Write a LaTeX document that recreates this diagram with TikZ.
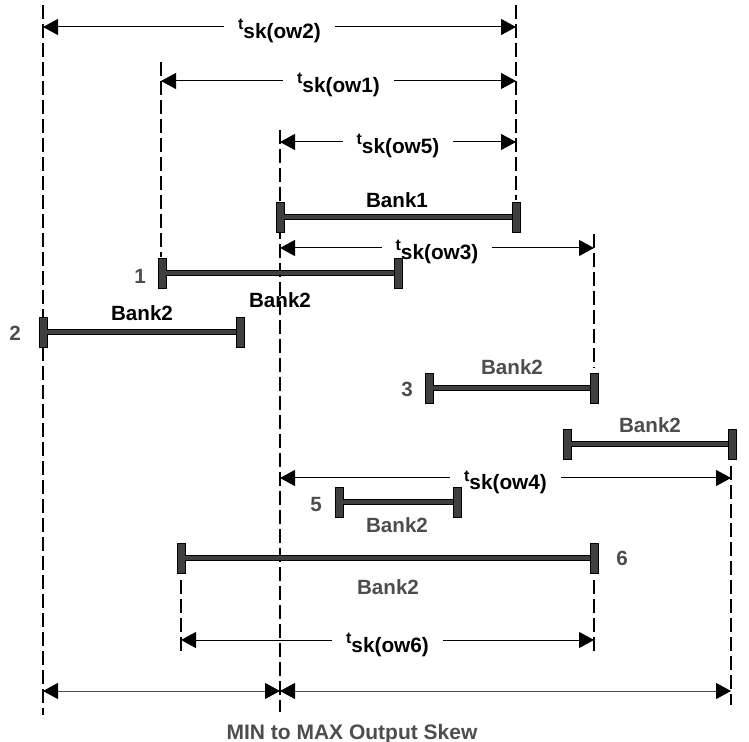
\documentclass[tikz,border=0pt]{standalone}
\usepackage{fontspec}
\setmainfont{Liberation Sans}
\usetikzlibrary{arrows.meta}
\definecolor{bargray}{HTML}{3F3F3F}
\definecolor{labgray}{HTML}{4D4D4D}
\newcommand{\tsk}[1]{\raisebox{4.5pt}{\fontsize{8}{9}\selectfont t}#1}
\tikzset{
 guide/.style={line width=0.6pt, dash pattern=on 7pt off 2.5pt},
 skew/.style={line width=0.5pt, {Triangle[length=7.5pt,width=8pt,black]}-{Triangle[length=7.5pt,width=8pt,black]}},
 tlabel/.style={fill=white, anchor=base, yshift=-6pt, inner xsep=7pt, inner ysep=1pt, font=\fontsize{10.4}{12}\selectfont\bfseries},
 capbox/.style={rectangle, draw=black, fill=bargray, line width=0.4pt, minimum width=4pt, minimum height=15pt, inner sep=0pt},
 bar/.style={draw=black, double=bargray, double distance=2pt, line width=0.5pt},
 word/.style={font=\fontsize{10.3}{12}\selectfont\bfseries},
 dim/.style={word, text=labgray},
}
\begin{document}
\begin{tikzpicture}[x=0.5pt,y=-0.5pt]
 \useasboundingbox (0,0) rectangle (749,742);

 %Guides
 \draw[guide] (43,5) -- (43,715);
 \draw[guide] (161,62) -- (161,257);
 \draw[guide] (280,130) -- (280,712);
 \draw[guide] (516,5) -- (516,200);
 \draw[guide] (594,234) -- (594,368);
 \draw[guide] (731,466) -- (731,705);
 \draw[guide] (181,580) -- (181,655);
 \draw[guide] (594,580) -- (594,655);

 %Skew arrows
 \coordinate (w2a) at (43,27);  \coordinate (w2b) at (516,27);
 \coordinate (w1a) at (161,81); \coordinate (w1b) at (516,81);
 \coordinate (w5a) at (280,142); \coordinate (w5b) at (516,142);
 \coordinate (w3a) at (280,248); \coordinate (w3b) at (594,248);
 \coordinate (w4a) at (280,478); \coordinate (w4b) at (731,478);
 \coordinate (w6a) at (181,640); \coordinate (w6b) at (594,640);
 \draw[skew] (w2a) -- node[tlabel] (w2) {\tsk{sk(ow2)}} (w2b);
 \draw[skew] (w1a) -- node[tlabel] (w1) {\tsk{sk(ow1)}} (w1b);
 \draw[skew] (w5a) -- node[tlabel] (w5) {\tsk{sk(ow5)}} (w5b);
 \draw[skew] (w3a) -- node[tlabel] (w3) {\tsk{sk(ow3)}} (w3b);
 \draw[skew] (w4a) -- node[tlabel] (w4) {\tsk{sk(ow4)}} (w4b);
 \draw[skew] (w6a) -- node[tlabel] (w6) {\tsk{sk(ow6)}} (w6b);

 %Min to max
 \coordinate (mna) at (43,691); \coordinate (mnb) at (280,691); \coordinate (mnc) at (731,691);
 \draw[skew,draw=labgray] (mna) -- (mnb);
 \draw[skew,draw=labgray] (mnb) -- (mnc);
 \node[dim,anchor=base,font=\fontsize{10.5}{12}\selectfont\bfseries] (mm) at (352,739) {MIN to MAX Output Skew};

 %Bars
 \node[capbox] (k1a) at (280,217) {}; \node[capbox] (k1b) at (516,217) {};
 \node[capbox] (k2a) at (162,273) {}; \node[capbox] (k2b) at (398,273) {};
 \node[capbox] (k3a) at (43,332) {};  \node[capbox] (k3b) at (240,332) {};
 \node[capbox] (k4a) at (429,388) {}; \node[capbox] (k4b) at (594,388) {};
 \node[capbox] (k5a) at (567,444) {}; \node[capbox] (k5b) at (732,444) {};
 \node[capbox] (k6a) at (339,502) {}; \node[capbox] (k6b) at (457,502) {};
 \node[capbox] (k7a) at (181,558) {}; \node[capbox] (k7b) at (594,558) {};
 \foreach \k in {1,...,7}
  \draw[bar] (k\k a) -- (k\k b);

 %Labels
 \node[word] (n1) at (397,200) {Bank1};
 \node[word] (n2) at (280,300) {Bank2};
 \node[dim] (m1) at (140,276) {1};
 \node[word] (n3) at (142,313) {Bank2};
 \node[dim] (m2) at (15,333) {2};
 \node[dim] (n4) at (512,367) {Bank2};
 \node[dim] (m3) at (407,389) {3};
 \node[dim] (n5) at (650,425) {Bank2};
 \node[dim] (m5) at (316,505) {5};
 \node[dim] (n6) at (397,525) {Bank2};
 \node[dim] (m6) at (622,558) {6};
 \node[dim] (n7) at (388,587) {Bank2};

\end{tikzpicture}
\end{document}
